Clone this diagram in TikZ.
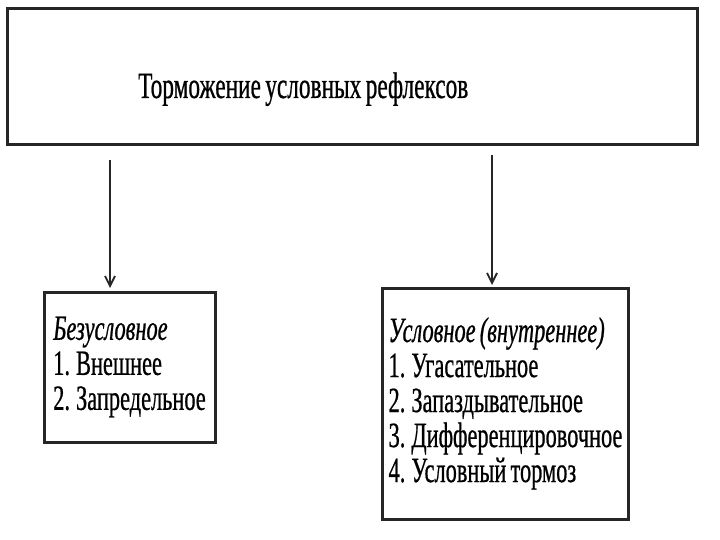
\documentclass[tikz,border=0pt]{standalone}
\usepackage{fontspec}
\setmainfont{Liberation Serif}[FakeStretch=0.63, FakeBold=0.6, WordSpace=0.75]
\usetikzlibrary{arrows.meta}
\begin{document}
\begin{tikzpicture}[x=1pt,y=1pt,
  frame/.style={draw=black!85, line width=3pt, inner sep=0pt, outer sep=0pt},
  listbox/.style={frame, align=left, font=\fontsize{35.5}{35}\selectfont},
  title/.style={font=\fontsize{37}{35}\selectfont, inner sep=0pt},
  arr/.style={draw=black!85, line width=1.8pt, -{Straight Barb[length=10pt,width=10pt,line width=1.8pt]}}]
\useasboundingbox (0,0) rectangle (720,-540);
\node[frame, minimum width=690pt, minimum height=136pt] (top) at (352,-77) {};
\node[title, anchor=base west] (ttl) at (138,-98) {Торможение условных рефлексов};
\node[listbox, minimum width=171pt, minimum height=150pt] (b1) at (129.5,-367)
  {\textit{Безусловное}\\1. Внешнее\\2. Запредельное};
\node[listbox, minimum width=246pt, minimum height=231pt] (b2) at (505.5,-403.5)
  {\textit{Условное (внутреннее)}\\1. Угасательное\\2. Запаздывательное\\3. Дифференцировочное\\4. Условный тормоз};
\coordinate (a1) at ([xshift=-19.5pt]b1.north);
\coordinate (a2) at ([xshift=-13.5pt]b2.north);
\draw[arr, shorten <=15pt, shorten >=4pt] (a1 |- top.south) -- (a1);
\draw[arr, shorten <=10pt, shorten >=3pt] (a2 |- top.south) -- (a2);
\end{tikzpicture}
\end{document}
